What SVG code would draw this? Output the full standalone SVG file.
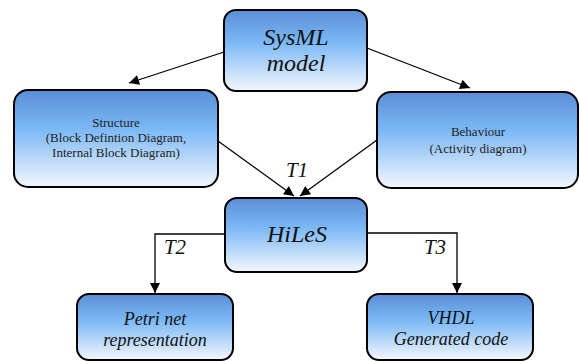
<svg xmlns="http://www.w3.org/2000/svg" width="579" height="361" viewBox="0 0 579 361">
<defs>
<linearGradient id="g" x1="0" y1="0" x2="0" y2="1">
<stop offset="0" stop-color="#5a8ed6"/>
<stop offset="0.4" stop-color="#7bb8f5"/>
<stop offset="1" stop-color="#f4f7fd"/>
</linearGradient>
<marker id="ah" viewBox="0 0 10 10" refX="10" refY="5" markerWidth="11" markerHeight="10" markerUnits="userSpaceOnUse" orient="auto">
<path d="M0,0 L10,5 L0,10 z" fill="#000"/>
</marker>
<style>
.box{fill:url(#g);stroke:#000;stroke-width:2}
.big{font-style:italic;font-size:24px;fill:#111;text-anchor:middle}
.mid{font-style:italic;font-size:18px;fill:#111;text-anchor:middle}
.small{font-size:13px;fill:#222;text-anchor:middle}
.lbl{font-style:italic;font-size:21px;fill:#111;text-anchor:middle}
.c{fill:none;stroke:#000;stroke-width:1.3}
</style>
</defs>
<g font-family="Liberation Serif, DejaVu Serif, serif">
<g id="connectors">
<line class="c" x1="224" y1="52" x2="129" y2="83" marker-end="url(#ah)"/>
<line class="c" x1="367" y1="48" x2="470" y2="88" marker-end="url(#ah)"/>
<line class="c" x1="218" y1="141" x2="294" y2="196" marker-end="url(#ah)"/>
<line class="c" x1="377" y1="140" x2="300" y2="196" marker-end="url(#ah)"/>
<polyline class="c" points="225,234 155,234 155,293" marker-end="url(#ah)"/>
<polyline class="c" points="367,233 457,233 457,293" marker-end="url(#ah)"/>
<text class="lbl" x="297" y="177">T1</text>
<text class="lbl" x="175" y="254">T2</text>
<text class="lbl" x="435" y="254">T3</text>
</g>
<g id="sysml">
<rect class="box" x="224" y="10" width="143" height="81" rx="12"/>
<text class="big" x="296" y="45">SysML</text>
<text class="big" x="296" y="71">model</text>
</g>
<g id="structure">
<rect class="box" x="14" y="90" width="204" height="97" rx="14"/>
<text class="small" x="116" y="127">Structure</text>
<text class="small" x="116" y="142">(Block Defintion Diagram,</text>
<text class="small" x="116" y="157">Internal Block Diagram)</text>
</g>
<g id="behaviour">
<rect class="box" x="377" y="92" width="201" height="96" rx="14"/>
<text class="small" x="478" y="136">Behaviour</text>
<text class="small" x="478" y="153">(Activity diagram)</text>
</g>
<g id="hiles">
<rect class="box" x="225" y="198" width="142" height="74" rx="12"/>
<text class="big" x="297" y="242">HiLeS</text>
</g>
<g id="petri">
<rect class="box" x="77" y="294" width="156" height="66" rx="12"/>
<text class="mid" x="155" y="325">Petri net</text>
<text class="mid" x="155" y="346">representation</text>
</g>
<g id="vhdl">
<rect class="box" x="367" y="294" width="166" height="66" rx="12"/>
<text class="mid" x="451" y="324">VHDL</text>
<text class="mid" x="451" y="345">Generated code</text>
</g>
</g>
</svg>
